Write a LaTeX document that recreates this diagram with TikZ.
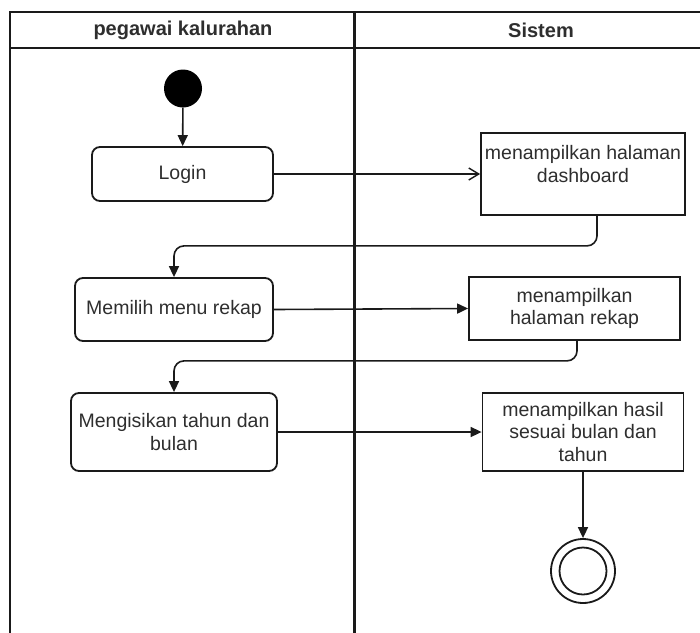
\documentclass[tikz,border=0pt]{standalone}
\usepackage{fontspec}
\setmainfont{Liberation Sans}
\usetikzlibrary{arrows.meta}
\definecolor{ink}{HTML}{1A1A1A}
\definecolor{txt}{HTML}{2E2E2E}

\begin{document}
\begin{tikzpicture}[x=1pt,y=-1pt,
  lane/.style={draw=ink, line width=2.5pt},
  lanetitle/.style={text=txt, font=\fontsize{20}{24}\selectfont\bfseries, inner sep=0pt},
  bodyfont/.style={text=txt, font=\fontsize{19.5}{22.5}\selectfont, align=center},
  act/.style={bodyfont, draw=ink, line width=1.8pt, rounded corners=8pt, inner sep=0pt},
  sysbox/.style={bodyfont, draw=ink, line width=1.8pt, inner sep=0pt},
  flow/.style={draw=ink, line width=1.6pt, -{Triangle[length=11pt,width=10pt]}},
  openflow/.style={draw=ink, line width=1.6pt, -{Straight Barb[length=10pt,width=12pt,line width=1.4pt]}},
  elbowflow/.style={flow, rounded corners=10pt}
]
\useasboundingbox (0,0) rectangle (700,632);
\clip (0,0) rectangle (700,632);

% swimlane frame
\draw[lane] (10,640) -- (10,12) -- (710,12);
\draw[lane] (10,48) -- (710,48);
\draw[lane, line width=3pt] (354,12) -- (354,640);
\node[lanetitle] (laneA) at (183,30) {pegawai kalurahan};
\node[lanetitle] (laneB) at (541,30) {Sistem};

% states
\node[circle, fill=black, minimum size=38pt, inner sep=0pt] (start) at (183,88.5) {};
\node[act, minimum width=181pt, minimum height=54pt] (login) at (182.5,174) {Login};
\node[sysbox, minimum width=204pt, minimum height=82pt] (dash) at (583,174) {};
\node[bodyfont, inner sep=0pt] (dashtxt) at (583,164) {menampilkan halaman\\dashboard};
\node[act, minimum width=198pt, minimum height=63pt] (pilih) at (174,309.5) {Memilih menu rekap};
\node[sysbox, minimum width=211pt, minimum height=63pt] (rekap) at (574.5,308.5) {menampilkan\\halaman rekap};
\node[act, minimum width=206pt, minimum height=78pt] (isi) at (174,432) {Mengisikan tahun dan\\bulan};
\node[sysbox, minimum width=201pt, minimum height=78pt] (hasil) at (583,432) {menampilkan hasil\\sesuai bulan dan\\tahun};
\node[circle, draw=ink, line width=1.8pt, minimum size=64pt, inner sep=0pt] (final) at (583,571) {};
\draw[ink, line width=1.8pt] (final.center) circle[radius=23.5pt];

% transitions
\draw[flow] (start) -- (login);
\draw[openflow] (login.east) -- (dash.west);
\draw[elbowflow] ([xshift=14pt]dash.south) -- ++(0,30) -| (pilih.north);
\draw[flow] (pilih.east) -- (rekap.west);
\draw[elbowflow] ([xshift=2.5pt]rekap.south) -- ++(0,20) -| (isi.north);
\draw[flow] (isi.east) -- (hasil.west);
\draw[flow] (hasil.south) -- (final.north);
\end{tikzpicture}
\end{document}
